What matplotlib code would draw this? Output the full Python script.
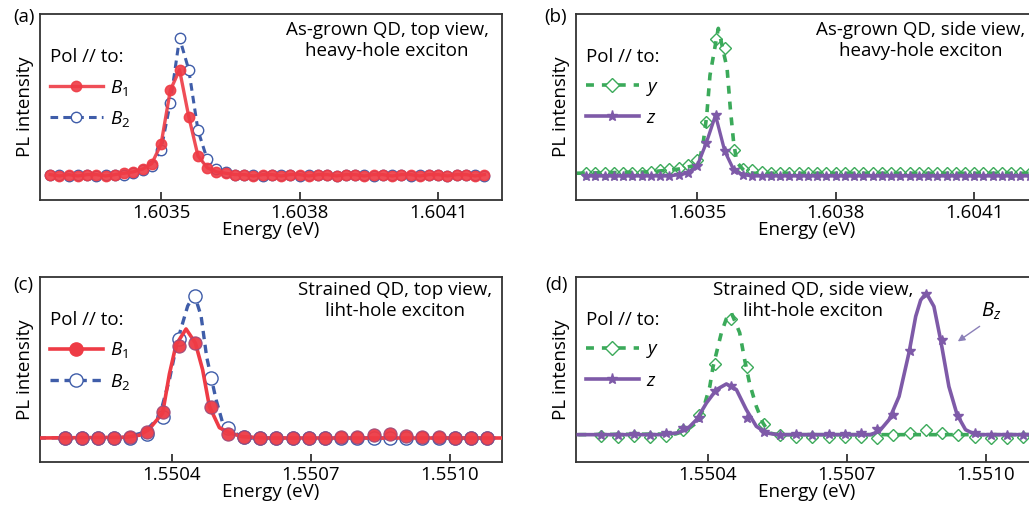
import numpy as np
import matplotlib
matplotlib.use("Agg")
import matplotlib.pyplot as plt

plt.rcParams['font.family'] = ['Open Sans', 'DejaVu Sans']
plt.rcParams['mathtext.fontset'] = 'custom'
plt.rcParams['mathtext.rm'] = 'Open Sans'
plt.rcParams['mathtext.it'] = 'Open Sans:italic'
FS = 13.5

RED = '#ee3b45'
BLUE = '#3f5da9'
GREEN = '#3baa5a'
PURPLE = '#7e5aa8'

# ---- data: top row (as-grown QD), energy grid start/step in eV ----
E_top_start, E_top_step = 1.60326, 0.00002

a_B1 = [0.01, 0.00, 0.01, 0.00, 0.01, 0.01, 0.00, 0.01, 0.02, 0.03,
        0.05, 0.09, 0.23, 0.62, 0.77, 0.43, 0.145, 0.06, 0.03, 0.02,
        0.01, 0.01, 0.00, 0.01, 0.01, 0.00, 0.01, 0.01, 0.00, 0.01,
        0.01, 0.00, 0.01, 0.01, 0.00, 0.01, 0.01, 0.00, 0.01, 0.01,
        0.00, 0.01, 0.01, 0.00, 0.01, 0.01, 0.00, 0.01]
a_B2 = [0.01, 0.01, 0.00, 0.01, 0.01, 0.00, 0.01, 0.01, 0.01, 0.02,
        0.04, 0.07, 0.19, 0.53, 1.00, 0.77, 0.33, 0.12, 0.05, 0.03,
        0.01, 0.01, 0.01, 0.00, 0.01, 0.01, 0.01, 0.00, 0.01, 0.01,
        0.01, 0.00, 0.01, 0.01, 0.01, 0.00, 0.01, 0.01, 0.01, 0.00,
        0.01, 0.01, 0.01, 0.00, 0.01, 0.01, 0.01, 0.00]

b_y = [0.02, 0.02, 0.02, 0.02, 0.02, 0.02, 0.02, 0.03, 0.04, 0.05,
       0.056, 0.08, 0.116, 0.39, 0.99, 0.93, 0.19, 0.05, 0.04, 0.03,
       0.02, 0.02, 0.02, 0.02, 0.02, 0.02, 0.02, 0.02, 0.02, 0.02,
       0.02, 0.02, 0.02, 0.02, 0.02, 0.02, 0.02, 0.02, 0.02, 0.02,
       0.02, 0.02, 0.02, 0.02, 0.02, 0.02, 0.02, 0.02, 0.02]
b_z = [0.00, 0.00, 0.00, 0.00, 0.00, 0.00, 0.00, 0.00, 0.00, 0.00,
       0.01, 0.02, 0.07, 0.24, 0.44, 0.18, 0.04, 0.01, 0.00, 0.00,
       0.00, 0.00, 0.00, 0.00, 0.00, 0.00, 0.00, 0.00, 0.00, 0.00,
       0.00, 0.00, 0.00, 0.00, 0.00, 0.00, 0.00, 0.00, 0.00, 0.00,
       0.00, 0.00, 0.00, 0.00, 0.00, 0.00, 0.00, 0.00, 0.00]
# fitted line for y in (b)
b_y_fitE = [1.60324, 1.60340, 1.60346, 1.603500, 1.6035065, 1.6035137,
            1.603521, 1.603528, 1.603546, 1.603565, 1.603572, 1.603579,
            1.603586, 1.603604, 1.60362, 1.60424]
b_y_fitI = [0.02, 0.03, 0.05, 0.08, 0.13, 0.25, 0.44, 0.73, 1.07, 0.78,
            0.49, 0.25, 0.10, 0.03, 0.02, 0.02]

# ---- data: bottom row (strained QD) ----
E_bot_start, E_bot_step = 1.55017, 0.000035

c_B1 = [0.00, 0.00, 0.00, 0.00, 0.01, 0.04, 0.18, 0.65, 0.67, 0.22,
        0.03, 0.01, 0.00, 0.00, 0.00, 0.00, 0.00, 0.005, 0.01, 0.02,
        0.03, 0.015, 0.01, 0.005, 0.00, 0.00, 0.00]
c_B2 = [0.00, 0.00, 0.00, 0.00, 0.00, 0.03, 0.15, 0.70, 1.00, 0.42,
        0.07, 0.01, 0.00, 0.00, 0.00, 0.00, 0.00, 0.00, 0.00, 0.00,
        0.00, 0.00, 0.00, 0.00, 0.00, 0.00, 0.00]
c_B1_fitE = [1.55011, 1.55030, 1.55033, 1.55035, 1.5503797, 1.5503942,
             1.5504086, 1.5504302, 1.5504503, 1.550466, 1.5504805,
             1.5505021, 1.5505237, 1.55055, 1.55060, 1.55112]
c_B1_fitI = [0.0, 0.005, 0.02, 0.06, 0.176, 0.45, 0.657, 0.768, 0.669,
             0.48, 0.223, 0.073, 0.037, 0.01, 0.0, 0.0]
c_B2_fitE = [1.55011, 1.55030, 1.55034, 1.5503726, 1.5503942, 1.5504121,
             1.5504337, 1.5504481, 1.5504626, 1.5504747, 1.550495,
             1.5505092, 1.5505237, 1.55056, 1.55112]
c_B2_fitI = [0.0, 0.005, 0.04, 0.15, 0.41, 0.69, 0.93, 1.01, 0.86, 0.57,
             0.27, 0.106, 0.05, 0.0, 0.0]

d_y = [-0.01, -0.015, -0.01, -0.015, -0.01, 0.035, 0.14, 0.50, 0.82, 0.48,
       0.075, 0.00, -0.015, -0.02, -0.015, -0.02, -0.015, -0.025, -0.005,
       0.01, 0.03, 0.015, -0.005, -0.02, -0.025, -0.025, -0.02]
d_z = [0.00, 0.00, 0.005, 0.00, 0.01, 0.05, 0.12, 0.31, 0.34, 0.12,
       0.02, 0.00, 0.005, 0.00, 0.005, 0.005, 0.01, 0.04, 0.14, 0.59,
       0.99, 0.67, 0.13, 0.01, 0.00, 0.00, 0.00]
d_y_fitE = [1.55012, 1.55033, 1.5503536, 1.5503751, 1.5503892, 1.5504037,
            1.5504108, 1.5504288, 1.5504396, 1.5504503, 1.5504682,
            1.5504789, 1.5504897, 1.5505041, 1.5505183, 1.5505327,
            1.55055, 1.55114]
d_y_fitI = [0.0, 0.005, 0.03, 0.085, 0.176, 0.34, 0.48, 0.72, 0.82, 0.86,
            0.72, 0.53, 0.36, 0.20, 0.083, 0.012, 0.0, 0.0]
d_z_fitE = [1.55012, 1.55030, 1.5503321, 1.5503536, 1.5503751, 1.5503966,
            1.5504181, 1.5504396, 1.5504611, 1.5504826, 1.5505041,
            1.5505256, 1.55055, 1.55075, 1.5507692, 1.5507907, 1.5508122,
            1.5508337, 1.5508481, 1.5508588, 1.5508709, 1.5508874,
            1.5509018, 1.5509197, 1.5509375, 1.5509556, 1.5509771, 1.55114]
d_z_fitI = [0.0, 0.0, 0.012, 0.035, 0.106, 0.224, 0.318, 0.358, 0.318,
            0.176, 0.059, 0.012, 0.0, 0.0, 0.023, 0.106, 0.27, 0.58, 0.835,
            0.95, 1.0, 0.905, 0.67, 0.34, 0.14, 0.035, 0.0, 0.0]

E_a = E_top_start + E_top_step * np.arange(len(a_B1))
E_b = E_top_start + E_top_step * np.arange(len(b_y))
E_c = E_bot_start + E_bot_step * np.arange(len(c_B1))
E_d = E_bot_start + E_bot_step * np.arange(len(d_y))

top_ticks = [1.6035, 1.6038, 1.6041]
bot_ticks = [1.5504, 1.5507, 1.5510]

W, H = 1029, 512
fig = plt.figure(figsize=(W / 100, H / 100), dpi=100)


def px(x, y):
    return x / W, 1 - y / H


def make_ax(left, top, bottom, xlim, ylim, ticks, ticklabels):
    ax = fig.add_axes([left / W, 1 - bottom / H, 462 / W, (bottom - top) / H])
    ax.set_xlim(*xlim)
    ax.set_ylim(*ylim)
    ax.set_xticks(ticks)
    ax.set_xticklabels(ticklabels)
    ax.set_yticks([])
    ax.tick_params(axis='x', direction='in', length=6, width=1.3,
                   labelsize=FS, pad=3, color='#333333')
    for s in ax.spines.values():
        s.set_linewidth(1.3)
        s.set_color('#333333')
    ax.set_xlabel('Energy (eV)', fontsize=FS, labelpad=-1)
    ax.set_ylabel('PL intensity', fontsize=FS)
    ax.yaxis.set_label_coords(-0.014, 0.5)
    return ax


top_xlim = (1.603238, 1.604238)
bot_xlim = (1.550115, 1.551112)
ax_a = make_ax(40, 14, 200, top_xlim, (-0.174, 1.174), top_ticks, ['1.6035', '1.6038', '1.6041'])
ax_b = make_ax(576, 14, 200, top_xlim, (-0.174, 1.174), top_ticks, ['1.6035', '1.6038', '1.6041'])
ax_c = make_ax(40, 277, 462, bot_xlim, (-0.169, 1.134), bot_ticks, ['1.5504', '1.5507', '1.5510'])
ax_d = make_ax(576, 277, 462, bot_xlim, (-0.193, 1.113), bot_ticks, ['1.5504', '1.5507', '1.5510'])

# (a)
ax_a.plot(E_a, a_B2, color=BLUE, lw=2.2, dashes=(2.5, 1.7), marker='o', ms=7.5,
          mfc='white', mec=BLUE, mew=1.0, label=r'$B_2$', zorder=2)
ax_a.plot(E_a, a_B1, color=RED, lw=2.4, marker='o', ms=7.5, mfc=RED, mec=RED,
          alpha=0.9, label=r'$B_1$', zorder=3)

# (b)
ax_b.plot(b_y_fitE, b_y_fitI, color=GREEN, lw=2.6, dashes=(2.2, 2.2), zorder=2)
ax_b.plot(E_b, b_y, ls='none', marker='D', ms=6, mfc='none', mec=GREEN, mew=1.0, zorder=2)
ax_b.plot(E_b, b_z, color=PURPLE, lw=2.4, marker='*', ms=7, mfc=PURPLE, mec=PURPLE, zorder=3)
ax_b.plot([], [], color=GREEN, lw=2.6, dashes=(2.2, 2.2), marker='D', ms=7,
          mfc='white', mec=GREEN, label=r'$y$')
ax_b.plot([], [], color=PURPLE, lw=2.6, marker='*', ms=8, label=r'$z$')

# (c)
ax_c.plot(c_B2_fitE, c_B2_fitI, color=BLUE, lw=2.4, dashes=(2.5, 1.7), zorder=2)
ax_c.plot(E_c, c_B2, ls='none', marker='o', ms=9.5, mfc='white', mec=BLUE, mew=1.0, zorder=2)
ax_c.plot(c_B1_fitE, c_B1_fitI, color=RED, lw=2.6, zorder=3)
ax_c.plot(E_c, c_B1, ls='none', marker='o', ms=9.5, mfc=RED, mec='#9a4a7a', mew=0.8,
          alpha=0.95, zorder=3)
ax_c.plot([], [], color=RED, lw=2.6, marker='o', ms=9.5, mfc=RED, mec=RED, label=r'$B_1$')
ax_c.plot([], [], color=BLUE, lw=2.4, dashes=(2.5, 1.7), marker='o', ms=9.5,
          mfc='white', mec=BLUE, label=r'$B_2$')

# (d)
ax_d.plot(d_y_fitE, d_y_fitI, color=GREEN, lw=2.6, dashes=(2.2, 2.2), zorder=2)
ax_d.plot(E_d, d_y, ls='none', marker='D', ms=6.5, mfc='none', mec=GREEN, mew=1.0, zorder=2)
ax_d.plot(d_z_fitE, d_z_fitI, color=PURPLE, lw=2.6, zorder=3)
ax_d.plot(E_d, d_z, ls='none', marker='*', ms=7, mfc=PURPLE, mec=PURPLE, zorder=3)
ax_d.plot([], [], color=GREEN, lw=2.6, dashes=(2.2, 2.2), marker='D', ms=7,
          mfc='white', mec=GREEN, label=r'$y$')
ax_d.plot([], [], color=PURPLE, lw=2.6, marker='*', ms=8, label=r'$z$')
ax_d.annotate('', xy=(1.550934, 0.647), xytext=(1.550991, 0.776),
              arrowprops=dict(arrowstyle='-|>', color='#8b80b8', lw=1.0,
                              mutation_scale=10))
ax_d.text(1.550990, 0.87, r'$B_z$', fontsize=FS + 1, ha='left', va='center')

# legends
for ax, order in [(ax_a, [1, 0]), (ax_b, [0, 1]), (ax_c, [0, 1]), (ax_d, [0, 1])]:
    h, l = ax.get_legend_handles_labels()
    leg = ax.legend([h[i] for i in order], [l[i] for i in order],
                    title='Pol // to:', loc='upper left', bbox_to_anchor=(0.022, 0.815),
                    frameon=False, fontsize=FS, title_fontsize=FS,
                    handlelength=2.8, handletextpad=0.4, labelspacing=0.6,
                    borderaxespad=0, borderpad=0, alignment='left', numpoints=1)

# panel annotations
notes = [
    (387, 21, 'As-grown QD, top view,\nheavy-hole exciton'),
    (921, 21, 'As-grown QD, side view,\nheavy-hole exciton'),
    (395, 281, 'Strained QD, top view,\nliht-hole exciton'),
    (813, 281, 'Strained QD, side view,\nliht-hole exciton'),
]
for x, y, s in notes:
    fig.text(*px(x, y), s, fontsize=FS, ha='center', va='top', linespacing=1.2)

for x, y, s in [(24, 17, '(a)'), (556, 17, '(b)'), (23, 285, '(c)'), (556, 285, '(d)')]:
    fig.text(*px(x, y), s, fontsize=FS, ha='center', va='center')

fig.savefig('out.png', dpi=100)
